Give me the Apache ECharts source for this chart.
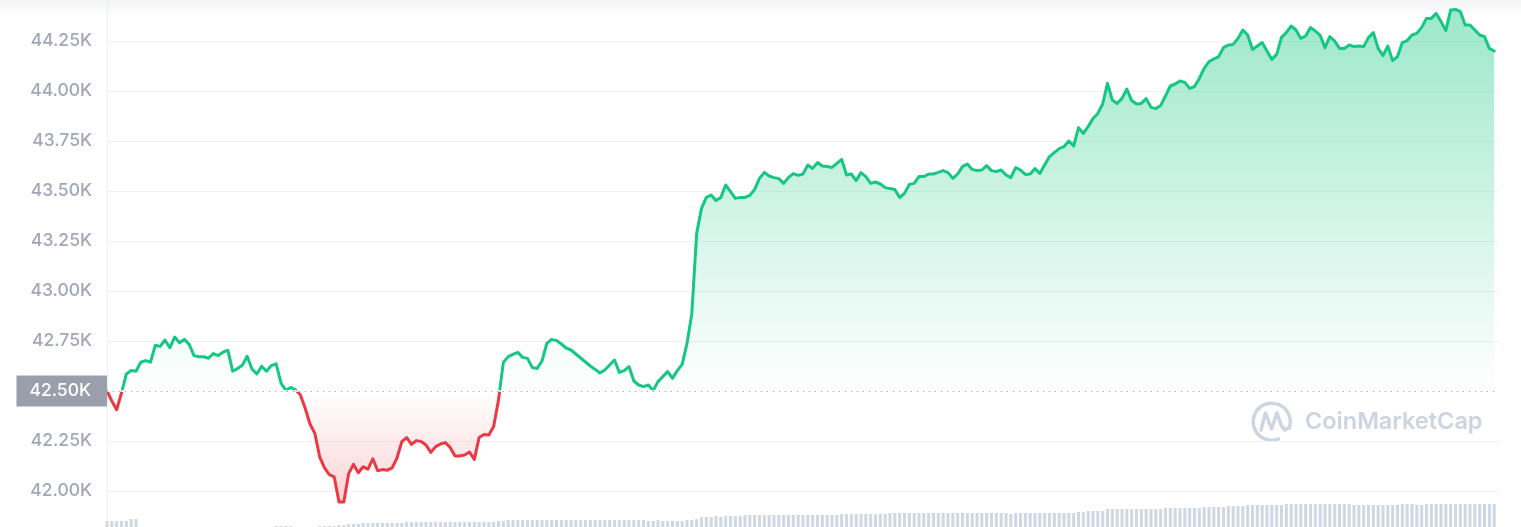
<!DOCTYPE html>
<html><head><meta charset="utf-8">
<script src="https://cdn.jsdelivr.net/npm/echarts@6/dist/echarts.min.js"></script>
<style>html,body{margin:0;padding:0;background:#fff}#c{width:1521px;height:527px}</style>
</head><body><div id="c"></div>
<script>
// BTC price, 5-minute steps over 24h (USD)
const prices = [
42500,42450,42406,42490,42585,42602,42599,42644,42652,42644,
42729,42723,42755,42716,42770,42741,42758,42733,42677,42671,
42671,42664,42687,42677,42694,42704,42599,42612,42629,42674,
42610,42585,42624,42599,42627,42636,42540,42503,42518,42506,
42481,42414,42335,42288,42171,42116,42082,42071,41945,41945,
42087,42133,42091,42121,42109,42161,42101,42107,42104,42116,
42165,42247,42267,42233,42252,42247,42230,42193,42222,42235,
42242,42218,42175,42175,42180,42195,42158,42268,42283,42280,
42322,42455,42643,42672,42683,42693,42668,42663,42617,42613,
42650,42738,42758,42752,42735,42715,42705,42685,42665,42645,
42625,42608,42590,42605,42630,42655,42593,42602,42622,42550,
42530,42522,42530,42502,42547,42572,42597,42563,42602,42633,
42738,42888,43288,43413,43468,43480,43452,43467,43530,43497,
43463,43468,43468,43478,43508,43563,43593,43575,43567,43562,
43538,43568,43587,43578,43585,43630,43613,43642,43625,43622,
43618,43638,43658,43580,43585,43552,43592,43572,43538,43545,
43535,43517,43512,43508,43467,43488,43533,43538,43572,43572,
43585,43585,43593,43602,43592,43563,43585,43622,43635,43608,
43602,43605,43627,43602,43597,43605,43580,43567,43617,43605,
43583,43585,43612,43588,43630,43672,43692,43712,43722,43750,
43725,43817,43788,43822,43862,43888,43935,44038,43955,43938,
43963,44010,43952,43935,43938,43962,43918,43912,43927,43975,
44025,44035,44050,44043,44013,44022,44063,44113,44147,44160,
44172,44217,44230,44233,44263,44305,44280,44208,44225,44242,
44200,44158,44183,44268,44292,44325,44305,44263,44275,44317,
44300,44278,44217,44272,44250,44213,44213,44230,44222,44225,
44222,44267,44292,44213,44177,44225,44152,44172,44242,44252,
44280,44288,44318,44363,44363,44388,44347,44302,44405,44408,
44397,44330,44330,44305,44280,44272,44213,44200
];
// traded volume (relative units)
const volumes = [
300,300,300,300,300,400,400,0,0,0,
0,0,0,0,0,0,0,0,0,0,
0,0,0,0,0,0,0,0,0,0,
0,0,0,0,0,50,50,50,50,0,
0,0,0,0,50,50,50,50,100,100,
150,150,150,200,200,200,200,200,200,200,
200,200,250,250,250,250,250,250,250,250,
250,250,250,250,250,250,250,250,250,250,
250,300,300,350,350,350,350,350,350,350,
350,350,350,350,350,350,350,350,350,350,
350,350,350,350,350,350,350,350,350,350,
350,350,300,300,350,300,300,300,300,300,
350,350,400,500,500,500,550,500,550,550,
550,550,600,600,600,600,600,600,600,600,
600,600,600,600,600,600,600,600,600,600,
600,600,650,650,650,650,650,650,650,650,
650,650,700,700,700,700,700,700,700,700,
700,700,700,700,700,700,700,700,700,700,
700,700,700,700,700,700,700,650,700,700,
700,700,700,700,700,700,700,700,700,700,
700,750,750,800,800,800,800,900,900,900,
900,900,900,900,900,900,900,900,900,950,
950,950,950,950,950,950,950,1000,1000,1000,
1000,1000,1050,1050,1050,1050,1100,1100,1100,1100,
1100,1100,1100,1100,1150,1150,1150,1150,1150,1150,
1150,1150,1150,1150,1150,1150,1150,1150,1100,1100,
1100,1100,1100,1100,1100,1100,1100,1100,1150,1150,
1150,1100,1100,1150,1150,1150,1150,1150,1150,1150,
1150,1150,1150,1150,1150,1150,1150,1150
];
const baseline = 42500;
const baselineLabel = '42.50K';
const yMin = 41750, yMax = 44500, yStep = 250;
const labelMin = 42000, labelMax = 44250;
const brand = 'CoinMarketCap';

const times = [];
for (let i = 0; i <= prices.length; i++) {
  const m = i * 5;
  times.push(String(Math.floor(m / 60) % 24).padStart(2, '0') + ':' + String(m % 60).padStart(2, '0'));
}

const maxV = Math.max(...prices), minV = Math.min(...prices);
const off = (maxV - baseline) / (maxV - minV);
const areaGrad = new echarts.graphic.LinearGradient(0, 0, 0, 1, [
  { offset: 0, color: 'rgba(22,199,132,0.42)' },
  { offset: off, color: 'rgba(22,199,132,0)' },
  { offset: off, color: 'rgba(234,57,67,0)' },
  { offset: 1, color: 'rgba(234,57,67,0.22)' }
]);

const chart = echarts.init(document.getElementById('c'), null, { renderer: 'canvas' });
const FONT = 'Inter, "Noto Sans", sans-serif';
chart.setOption({
  animation: false,
  backgroundColor: '#ffffff',
  textStyle: { fontFamily: FONT },
  grid: [
    { left: 107, right: 22, top: -9, height: 550, outerBoundsMode: 'none', containLabel: false },
    { left: 107, right: 22, top: 380, bottom: 0, outerBoundsMode: 'none', containLabel: false }
  ],
  xAxis: [
    { type: 'category', gridIndex: 0, data: times, boundaryGap: false,
      axisLine: { show: false }, axisTick: { show: false }, axisLabel: { show: false }, splitLine: { show: false } },
    { type: 'category', gridIndex: 1, data: times, boundaryGap: false,
      axisLine: { show: false }, axisTick: { show: false }, axisLabel: { show: false }, splitLine: { show: false } }
  ],
  yAxis: [
    { type: 'value', gridIndex: 0, min: yMin, max: yMax, interval: yStep,
      axisLine: { show: true, lineStyle: { color: '#eceff4', width: 1 } },
      axisTick: { show: false },
      splitLine: { show: true, lineStyle: { color: '#eff2f5', width: 1 } },
      axisLabel: {
        margin: 15, fontSize: 17.5, fontWeight: 500, color: '#a1a7b8', fontFamily: FONT,
        formatter: v => (v < labelMin || v > labelMax || v === baseline) ? '' : (v / 1000).toFixed(2) + 'K'
      } },
    { type: 'value', gridIndex: 1, min: 0, max: 7350, show: false }
  ],
  visualMap: {
    type: 'piecewise', show: false, seriesIndex: 0, dimension: 1,
    pieces: [
      { min: 30000, lt: baseline, color: '#ea3943' },
      { gte: baseline, max: 60000, color: '#16c784' }
    ]
  },
  graphic: [
    { type: 'rect', z: -10, left: 0, top: 0, shape: { width: 1521, height: 16 },
      style: { fill: new echarts.graphic.LinearGradient(0, 0, 0, 1, [
        { offset: 0, color: 'rgba(88,102,126,0.08)' }, { offset: 1, color: 'rgba(88,102,126,0)' }]) } },
    { type: 'arc', z: -5, shape: { cx: 1271.7, cy: 421.7, r: 18.5, startAngle: 1.2, endAngle: Math.PI * 2 + 0.35 },
      style: { stroke: '#cdd5e2', lineWidth: 3.5, fill: null, lineCap: 'round' } },
    { type: 'polyline', z: -5, shape: { points: [[1261, 430], [1265.5, 413], [1271.5, 429], [1277, 413], [1281.5, 426], [1285, 430], [1289, 428]] },
      style: { stroke: '#cdd5e2', lineWidth: 3.5, fill: null, lineJoin: 'round', lineCap: 'round' } },
    { type: 'text', z: -5, x: 1305, y: 421.5,
      style: { text: brand, fontSize: 23.5, fontWeight: 600, fontFamily: FONT, fill: '#ccd4e1', align: 'left', verticalAlign: 'middle' } }
  ],
  series: [
    {
      type: 'line', xAxisIndex: 0, yAxisIndex: 0, data: prices, symbol: 'none', z: 3,
      lineStyle: { width: 3, join: 'round', cap: 'round' },
      areaStyle: { origin: baseline, color: areaGrad, opacity: 1 },
      markLine: {
        silent: true, symbol: 'none', animation: false,
        data: [
          { yAxis: baseline, lineStyle: { color: '#ffffff', type: 'solid', width: 1.5 }, label: { show: false } },
          { yAxis: baseline, lineStyle: { color: '#9ea3ae', type: [1, 5], width: 1 },
            label: { show: true, position: 'start', distance: 0, formatter: baselineLabel,
              color: '#ffffff', backgroundColor: '#9a9fab', fontSize: 17.5, fontWeight: 500, fontFamily: FONT,
              lineHeight: 19, padding: [6, 16, 6, 13] } }
        ]
      }
    },
    {
      type: 'bar', xAxisIndex: 1, yAxisIndex: 1, data: volumes, barWidth: 3, silent: true, z: 1,
      itemStyle: { color: '#cfd6e4' }
    }
  ]
});
</script>
</body></html>
